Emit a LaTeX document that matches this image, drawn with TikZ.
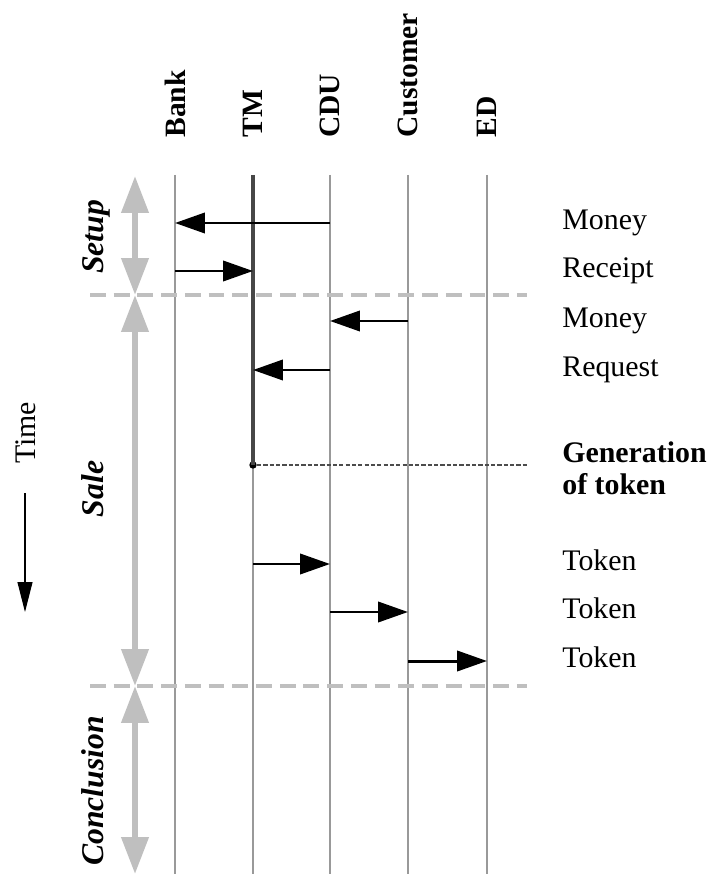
\documentclass[tikz,border=0pt]{standalone}
\usepackage{fontspec}
\setmainfont{Liberation Serif}
\usetikzlibrary{arrows.meta}

\begin{document}
\begin{tikzpicture}[x=0.02cm, y=-0.02cm,
  font=\fontsize{17}{18}\selectfont,
  life/.style={draw=black!40, line width=1.1pt},
  tmline/.style={draw=black!72, line width=1.9pt},
  msg/.style={-{Triangle[length=17pt,width=11.5pt]}, line width=1.7pt},
  sep/.style={draw=black!25, line width=2.8pt, dash pattern=on 9pt off 4.5pt},
  phase/.style={{Triangle[length=21pt,width=15pt]}-{Triangle[length=21pt,width=15pt]},
                draw=black!25, line width=3.4pt},
  head/.style={rotate=90, anchor=west, inner sep=0pt, font=\bfseries\fontsize{16.8}{20}\selectfont},
  phlabel/.style={rotate=90, anchor=base, inner sep=0pt, font=\bfseries\itshape\fontsize{18}{20}\selectfont},
  lbl/.style={anchor=west, inner sep=0pt, text height=0.72em, text depth=0pt},
  gen/.style={draw=black!70, line width=0.6pt, dash pattern=on 2.4pt off 1.2pt},
]
\useasboundingbox (0,0) rectangle (718,874);

% ---- lifelines and their heads ----
\foreach \x/\n/\t in {175/bank/Bank, 253/tm/TM, 330/cdu/CDU, 408/cust/Customer, 487/ed/ED} {
  \node[head] (\n) at (\x,138) {\t};
  \coordinate (\n-top) at (\x,175);
  \coordinate (\n-bot) at (\x,874);
  \draw[life] (\n-top) -- (\n-bot);
}

% ---- phase separators ----
\coordinate (sepA-l) at (90,295);  \coordinate (sepA-r) at (527,295);
\coordinate (sepB-l) at (90,686);  \coordinate (sepB-r) at (527,686);
\draw[sep] (sepA-l) -- (sepA-r);
\draw[sep] (sepB-l) -- (sepB-r);

% ---- phase arrows ----
\coordinate (ph0) at (135,176);
\coordinate (ph1) at (135,295);
\coordinate (ph2) at (135,686);
\coordinate (ph3) at (135,874);
\draw[phase] (ph0) -- (ph1);
\draw[phase] (ph1) -- (ph2);
\draw[phase] (ph2) -- (ph3);
\node[phlabel] (setup) at (103,237) {Setup};
\node[phlabel] (sale)  at (103,489) {Sale};
\node[phlabel] (concl) at (103,791) {Conclusion};

% ---- time ----
\node[rotate=90, inner sep=0pt] (time) at (26,433) {Time};
\coordinate (time-a) at (25,493);
\coordinate (time-b) at (25,612);
\draw[-{Triangle[length=17pt,width=8.5pt]}, line width=0.6pt] (time-a) -- (time-b);

% ---- message labels ----
\node[lbl] (lmoney1) at (562,223) {Money};
\node[lbl] (lreceipt) at (562,271) {Receipt};
\node[lbl] (lmoney2) at (562,321) {Money};
\node[lbl] (lrequest) at (562,370) {Request};
\node[anchor=west, inner sep=0pt, align=left, font=\bfseries\fontsize{17}{18}\selectfont] (lgen) at (562,468)
  {Generation\\of token};
\node[lbl] (ltoken1) at (562,564) {Token};
\node[lbl] (ltoken2) at (562,612) {Token};
\node[lbl] (ltoken3) at (562,661) {Token};

% ---- token generation ----
\coordinate (genEnd) at (527,465);
\node[circle, fill, inner sep=0pt, minimum size=4.2pt] (gdot) at (tm-top |- genEnd) {};
\draw[tmline] (tm-top) -- (gdot.center);
\draw[gen] (gdot) -- (genEnd);

% ---- messages ----
\draw[msg] (cdu-top |- lmoney1.west) -- (bank-top |- lmoney1.west);
\draw[msg] (bank-top |- lreceipt.west) -- (tm-top |- lreceipt.west);
\draw[msg] (cust-top |- lmoney2.west) -- (cdu-top |- lmoney2.west);
\draw[msg] (cdu-top |- lrequest.west) -- (tm-top |- lrequest.west);
\draw[msg] (tm-top |- ltoken1.west) -- (cdu-top |- ltoken1.west);
\draw[msg] (cdu-top |- ltoken2.west) -- (cust-top |- ltoken2.west);
\draw[msg] (cust-top |- ltoken3.west) -- (ed-top |- ltoken3.west);
\end{tikzpicture}
\end{document}
